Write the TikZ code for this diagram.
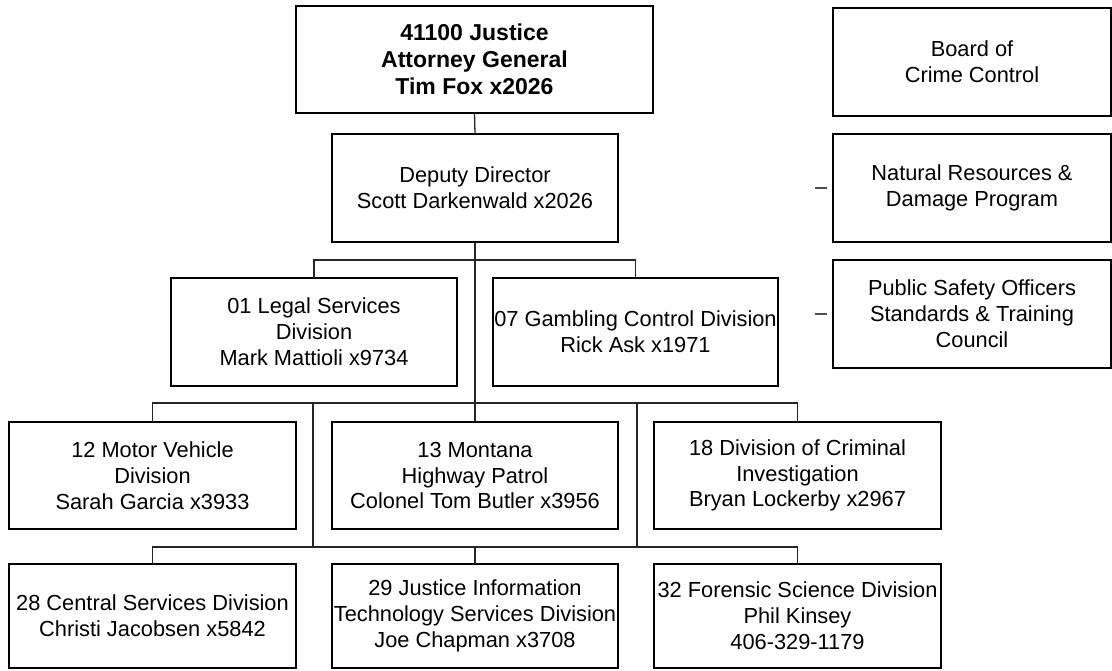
\documentclass[tikz,border=0pt]{standalone}
\usepackage{fontspec}
\setmainfont{Liberation Sans}
\begin{document}
\begin{tikzpicture}[x=1pt,y=-1pt,
  box/.style={draw=black, line width=1.3pt, rectangle, inner sep=0pt, outer sep=0pt,
    align=center, font=\fontsize{21.8}{25.8}\selectfont, anchor=north west},
  conn/.style={draw=black!85, line width=1.3pt},
  dashmark/.style={draw=black!70, line width=1.6pt}]
\path[use as bounding box] (0,0) rectangle (1112,671);
\clip (0,0) rectangle (1112,671);
% boxes (x0,y0) size w x h
\node[box, minimum width=357, minimum height=107, font=\bfseries\fontsize{23}{27}\selectfont] (top) at (296,6) {41100 Justice\\Attorney General\\Tim Fox x2026};
\node[box, minimum width=286, minimum height=108] (dep) at (332,134) {Deputy Director\\Scott Darkenwald x2026};
\node[box, minimum width=286, minimum height=108] (legal) at (171,278) {01 Legal Services\\Division\\Mark Mattioli x9734};
\node[box, minimum width=285, minimum height=108] (gamb) at (493,278) {07 Gambling Control Division\\Rick Ask x1971};
\node[box, minimum width=287, minimum height=107] (mv) at (9,422) {12 Motor Vehicle\\Division\\Sarah Garcia x3933};
\node[box, minimum width=286, minimum height=107] (mhp) at (332,422) {13 Montana\\Highway Patrol\\Colonel Tom Butler x3956};
\node[box, minimum width=287, minimum height=107] (dci) at (654,422) {18 Division of Criminal\\Investigation\\Bryan Lockerby x2967};
\node[box, minimum width=287, minimum height=104] (cs) at (9,564) {28 Central Services Division\\Christi Jacobsen x5842};
\node[box, minimum width=286, minimum height=104] (jit) at (332,564) {29 Justice Information\\Technology Services Division\\Joe Chapman x3708};
\node[box, minimum width=287, minimum height=104] (fs) at (654,564) {32 Forensic Science Division\\Phil Kinsey\\406-329-1179};
\node[box, minimum width=278, minimum height=108] (board) at (833,8) {Board of\\Crime Control};
\node[box, minimum width=278, minimum height=108] (nr) at (833,134) {Natural Resources \&\\Damage Program};
\node[box, minimum width=278, minimum height=108] (ps) at (833,260) {Public Safety Officers\\Standards \& Training\\Council};
% junction coordinates
\coordinate (b2) at (475,260);
\coordinate (b3) at (475,403);
\coordinate (j3l) at (313,403);
\coordinate (j3r) at (637,403);
\coordinate (j4l) at (313,547);
\coordinate (j4r) at (637,547);
\coordinate (b4) at (475,547);
% connectors
\draw[conn] (top.south) -- (dep.north);
\draw[conn] (dep.south) -- (mhp.north);
\draw[conn] (legal.north) |- (b2) -| (gamb.north);
\draw[conn] (mv.north) |- (b3) -| (dci.north);
\draw[conn] (j3l) -- (j4l);
\draw[conn] (j3r) -- (j4r);
\draw[conn] (cs.north) |- (j4l) -- (j4r) -| (fs.north);
\draw[conn] (b4) -- (jit.north);
% short marks left of right-column boxes
\coordinate (d1a) at (815,188);
\coordinate (d1b) at (827,188);
\coordinate (d2a) at (815,314);
\coordinate (d2b) at (827,314);
\draw[dashmark] (d1a) -- (d1b);
\draw[dashmark] (d2a) -- (d2b);
\end{tikzpicture}
\end{document}
